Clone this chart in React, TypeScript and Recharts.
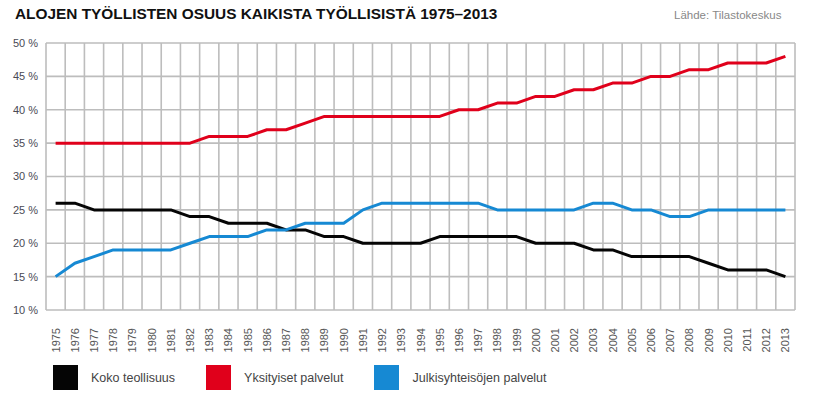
import { CartesianGrid, Line, LineChart, XAxis, YAxis } from "recharts";

const years = [
  1975, 1976, 1977, 1978, 1979, 1980, 1981, 1982, 1983, 1984, 1985, 1986, 1987,
  1988, 1989, 1990, 1991, 1992, 1993, 1994, 1995, 1996, 1997, 1998, 1999, 2000,
  2001, 2002, 2003, 2004, 2005, 2006, 2007, 2008, 2009, 2010, 2011, 2012, 2013,
];

// Koko teollisuus
const industry = [
  26, 26, 25, 25, 25, 25, 25, 24, 24, 23, 23, 23, 22, 22, 21, 21, 20, 20, 20,
  20, 21, 21, 21, 21, 21, 20, 20, 20, 19, 19, 18, 18, 18, 18, 17, 16, 16, 16, 15,
];

// Yksityiset palvelut
const privateServices = [
  35, 35, 35, 35, 35, 35, 35, 35, 36, 36, 36, 37, 37, 38, 39, 39, 39, 39, 39,
  39, 39, 40, 40, 41, 41, 42, 42, 43, 43, 44, 44, 45, 45, 46, 46, 47, 47, 47, 48,
];

// Julkisyhteisöjen palvelut
const publicServices = [
  15, 17, 18, 19, 19, 19, 19, 20, 21, 21, 21, 22, 22, 23, 23, 23, 25, 26, 26,
  26, 26, 26, 26, 25, 25, 25, 25, 25, 26, 26, 25, 25, 24, 24, 25, 25, 25, 25, 25,
];

const yTicks = [10, 15, 20, 25, 30, 35, 40, 45, 50];

const series = [
  { key: "industry", name: "Koko teollisuus", color: "#050505" },
  { key: "privateServices", name: "Yksityiset palvelut", color: "#e0001b" },
  { key: "publicServices", name: "Julkisyhteisöjen palvelut", color: "#1689d3" },
];

const data = years.map((year, i) => ({
  year,
  industry: industry[i],
  privateServices: privateServices[i],
  publicServices: publicServices[i],
}));

// grid lines sit between the years, not on them
const boundaries = [...years.map((y) => y - 0.5), years[years.length - 1] + 0.5];
const x0 = boundaries[0];
const x1 = boundaries[boundaries.length - 1];

const YearTick = (props: any) => {
  const { x, y, payload } = props;
  return (
    <text
      x={0}
      y={0}
      transform={`translate(${x + 4},${y + 10}) rotate(-90)`}
      textAnchor="end"
      fontSize={11}
      fill="#555"
    >
      {payload.value}
    </text>
  );
};

const App = () => {
  return (
    <div
      style={{
        position: "absolute",
        left: 0,
        top: 0,
        width: 820,
        height: 395,
        background: "#fff",
        fontFamily: "'Liberation Sans', Arial, sans-serif",
      }}
    >
      <div
        style={{
          position: "absolute",
          left: 15,
          top: 5,
          fontSize: 15.4,
          lineHeight: "17px",
          fontWeight: 900,
          color: "#111",
          whiteSpace: "nowrap",
        }}
      >
        ALOJEN TYÖLLISTEN OSUUS KAIKISTA TYÖLLISISTÄ 1975–2013
      </div>
      <div
        style={{
          position: "absolute",
          left: 674,
          top: 8,
          fontSize: 11.5,
          lineHeight: "14px",
          color: "#888",
          whiteSpace: "nowrap",
        }}
      >
        Lähde: Tilastokeskus
      </div>
      <div style={{ position: "absolute", left: 0, top: 0 }}>
        <LineChart
          width={820}
          height={395}
          data={data}
          margin={{ top: 43, right: 25, left: 6, bottom: 40 }}
        >
          <CartesianGrid
            stroke="#bdbdbd"
            strokeWidth={1.6}
            verticalCoordinatesGenerator={({ offset }: any) =>
              boundaries.map((b) => offset.left + (offset.width * (b - x0)) / (x1 - x0))
            }
          />
          <XAxis
            dataKey="year"
            type="number"
            domain={[x0, x1]}
            ticks={years}
            interval={0}
            height={45}
            axisLine={false}
            tickLine={false}
            tick={<YearTick />}
          />
          <YAxis
            domain={[10, 50]}
            ticks={yTicks}
            width={40}
            axisLine={false}
            tickLine={false}
            tickFormatter={(v: number) => `${v} %`}
            tick={{ fontSize: 11, fill: "#4a4a55" }}
          />
          {series.map((s) => (
            <Line
              key={s.key}
              dataKey={s.key}
              name={s.name}
              stroke={s.color}
              strokeWidth={3}
              dot={false}
              type="linear"
              strokeLinejoin="round"
              isAnimationActive={false}
            />
          ))}
        </LineChart>
      </div>
      <div
        style={{
          position: "absolute",
          left: 53,
          top: 365,
          display: "flex",
          alignItems: "center",
          fontSize: 12.5,
          color: "#444",
        }}
      >
        {series.map((s) => (
          <div
            key={s.key}
            style={{ display: "flex", alignItems: "center", marginRight: 31 }}
          >
            <span
              style={{
                display: "inline-block",
                width: 25,
                height: 25,
                background: s.color,
                marginRight: 13,
              }}
            />
            <span>{s.name}</span>
          </div>
        ))}
      </div>
    </div>
  );
};

export default App;
